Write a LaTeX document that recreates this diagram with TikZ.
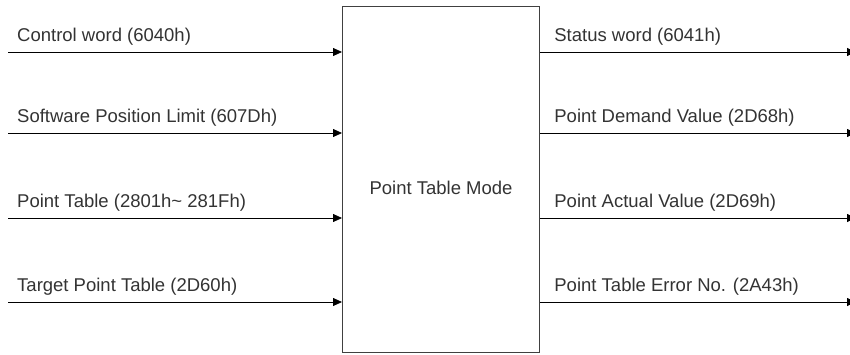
\documentclass[tikz,border=0pt]{standalone}
\usepackage{fontspec}
\setmainfont{Liberation Sans}
\usepackage{tikz}
\usetikzlibrary{arrows.meta,positioning}

\tikzset{
    sig/.style={line width=0.8pt, -{Triangle[length=9pt,width=8pt]}},
    sigtext/.style={inner sep=0pt, anchor=south west, text=black!80, font=\fontsize{18.5}{21}\selectfont},
}

\begin{document}
\begin{tikzpicture}[x=1pt,y=1pt]
    \useasboundingbox (0,0) rectangle (850,354);

    \node[
        draw=black!75,
        line width=1.2pt,
        minimum width=197pt,
        minimum height=346pt,
        inner sep=0pt,
        anchor=south west
    ] (mode) at (342,1) {};
    \node[sigtext, anchor=center] (modetxt) at (441,166) {Point Table Mode};

    % inputs
    \foreach \y/\key/\txt in {302/cw/{Control word (6040h)},
                              221/swl/{Software Position Limit (607Dh)},
                              136/pt/{Point Table (2801h{\textasciitilde}\ 281Fh)},
                              52/tpt/{Target Point Table (2D60h)}} {
        \coordinate (in\key) at (8,\y);
        \draw[sig] (in\key) -- (in\key -| mode.west);
        \node[sigtext, above right=6pt and 9pt of in\key] (l\key) {\txt};
    }

    % outputs
    \foreach \y/\key/\txt in {302/sw/{Status word (6041h)},
                              221/pdv/{Point Demand Value (2D68h)},
                              136/pav/{Point Actual Value (2D69h)},
                              52/pte/{Point Table Error No. (2A43h)}} {
        \coordinate (out\key) at (856,\y);
        \coordinate (from\key) at (out\key -| mode.east);
        \draw[sig] (from\key) -- (out\key);
        \node[sigtext, above right=6pt and 14pt of from\key] (l\key) {\txt};
    }
\end{tikzpicture}
\end{document}
